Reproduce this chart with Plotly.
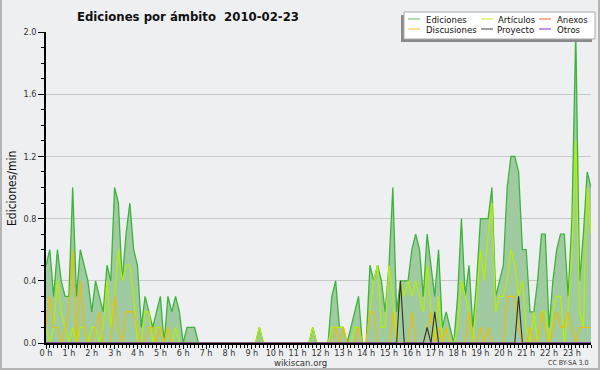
import plotly.graph_objects as go

# ---- data (edits per minute, 10-minute slots, 2010-02-23) ----
slots = list(range(144))  # 10-minute slot index
hour_labels = [f"{h} h" for h in range(24)]
y_ticks = [0.0, 0.4, 0.8, 1.2, 1.6, 2.0]

ediciones = [
    0.5, 0.6, 0.3, 0.6, 0.4, 0.3, 0.3, 1.0, 0.3, 0.6,
    0.5, 0.4, 0.2, 0.4, 0.3, 0.2, 0.5, 0.4, 1.0, 0.9,
    0.4, 0.7, 0.9, 0.6, 0.5, 0.1, 0.3, 0.2, 0.1, 0.2,
    0.3, 0.0, 0.3, 0.2, 0.3, 0.2, 0.0, 0.1, 0.1, 0.1,
    0.0, 0.0, 0.0, 0.0, 0.0, 0.0, 0.0, 0.0, 0.0, 0.0,
    0.0, 0.0, 0.0, 0.0, 0.0, 0.0, 0.1, 0.0, 0.0, 0.0,
    0.0, 0.0, 0.0, 0.0, 0.0, 0.0, 0.0, 0.0, 0.0, 0.0,
    0.1, 0.0, 0.0, 0.0, 0.0, 0.3, 0.4, 0.1, 0.1, 0.0,
    0.1, 0.2, 0.3, 0.0, 0.0, 0.5, 0.4, 0.5, 0.4, 0.2,
    0.5, 1.0, 0.2, 0.4, 0.4, 0.4, 0.6, 0.7, 0.6, 0.3,
    0.7, 0.5, 0.3, 0.6, 0.1, 0.2, 0.1, 0.0, 0.3, 0.8,
    0.3, 0.5, 0.1, 0.4, 0.8, 0.8, 0.8, 1.0, 0.3, 0.4,
    0.5, 1.0, 1.2, 1.2, 1.1, 0.6, 0.6, 0.2, 0.2, 0.4,
    0.7, 0.7, 0.1, 0.4, 0.6, 0.7, 0.7, 0.3, 0.8, 2.0,
    0.4, 0.7, 1.1, 1.0,
]
articulos = [
    0.1, 0.0, 0.1, 0.4, 0.2, 0.1, 0.0, 0.1, 0.0, 0.1,
    0.1, 0.0, 0.1, 0.1, 0.0, 0.1, 0.4, 0.1, 0.3, 0.6,
    0.4, 0.5, 0.5, 0.3, 0.0, 0.0, 0.2, 0.2, 0.0, 0.1,
    0.1, 0.0, 0.1, 0.0, 0.1, 0.0, 0.0, 0.0, 0.0, 0.0,
    0.0, 0.0, 0.0, 0.0, 0.0, 0.0, 0.0, 0.0, 0.0, 0.0,
    0.0, 0.0, 0.0, 0.0, 0.0, 0.0, 0.1, 0.0, 0.0, 0.0,
    0.0, 0.0, 0.0, 0.0, 0.0, 0.0, 0.0, 0.0, 0.0, 0.0,
    0.1, 0.0, 0.0, 0.0, 0.0, 0.1, 0.1, 0.1, 0.1, 0.0,
    0.0, 0.1, 0.1, 0.0, 0.0, 0.2, 0.4, 0.5, 0.1, 0.1,
    0.5, 0.3, 0.0, 0.4, 0.3, 0.4, 0.3, 0.4, 0.3, 0.2,
    0.5, 0.2, 0.0, 0.3, 0.0, 0.1, 0.0, 0.0, 0.1, 0.4,
    0.3, 0.2, 0.0, 0.3, 0.6, 0.4, 0.7, 0.9, 0.2, 0.3,
    0.3, 0.4, 0.6, 0.5, 0.3, 0.4, 0.1, 0.0, 0.2, 0.0,
    0.2, 0.2, 0.0, 0.2, 0.3, 0.3, 0.0, 0.2, 0.6, 1.3,
    0.2, 0.1, 1.0, 0.7,
]
discusiones = [
    0.1, 0.3, 0.1, 0.1, 0.0, 0.1, 0.2, 0.6, 0.0, 0.4,
    0.1, 0.0, 0.0, 0.1, 0.2, 0.0, 0.0, 0.0, 0.3, 0.1,
    0.0, 0.2, 0.2, 0.2, 0.1, 0.0, 0.0, 0.1, 0.1, 0.0,
    0.1, 0.0, 0.1, 0.0, 0.0, 0.0, 0.0, 0.0, 0.0, 0.0,
    0.0, 0.0, 0.0, 0.0, 0.0, 0.0, 0.0, 0.0, 0.0, 0.0,
    0.0, 0.0, 0.0, 0.0, 0.0, 0.0, 0.0, 0.0, 0.0, 0.0,
    0.0, 0.0, 0.0, 0.0, 0.0, 0.0, 0.0, 0.0, 0.0, 0.0,
    0.0, 0.0, 0.0, 0.0, 0.0, 0.0, 0.1, 0.0, 0.1, 0.0,
    0.0, 0.0, 0.1, 0.0, 0.0, 0.2, 0.2, 0.0, 0.0, 0.0,
    0.0, 0.2, 0.0, 0.0, 0.0, 0.0, 0.2, 0.0, 0.0, 0.0,
    0.1, 0.2, 0.0, 0.1, 0.0, 0.1, 0.0, 0.0, 0.0, 0.0,
    0.0, 0.2, 0.0, 0.0, 0.1, 0.0, 0.1, 0.0, 0.0, 0.0,
    0.0, 0.3, 0.3, 0.3, 0.1, 0.0, 0.0, 0.1, 0.0, 0.0,
    0.2, 0.1, 0.0, 0.1, 0.2, 0.1, 0.1, 0.2, 0.1, 0.0,
    0.1, 0.1, 0.1, 0.1,
]
proyecto = [0.0] * 144
for idx, val in [(93, 0.4), (100, 0.1), (102, 0.2), (124, 0.3)]:
    proyecto[idx] = val
anexos = [0.0] * 144
otros = [0.0] * 144

hours = [s / 6 for s in slots]

# ---- layout helpers (pixel -> paper) ----
W, H = 600, 370
ML, MR, MT, MB = 46, 9, 32, 27
PW, PH = W - ML - MR, H - MT - MB


def px(x):
    return (x - ML) / PW


def py(y):
    return (H - MB - y) / PH


FONT = "DejaVu Sans Condensed, DejaVu Sans, sans-serif"
BG = "#eeeff1"

fig = go.Figure()
fig.add_trace(go.Scatter(x=hours, y=ediciones, name="Ediciones", mode="lines",
                         line=dict(color="#3cb43c", width=1.3),
                         fill="tozeroy", fillcolor="#a0cba0"))
fig.add_trace(go.Scatter(x=hours, y=articulos, name="Artículos", mode="lines",
                         line=dict(color="#b4f000", width=1.2)))
fig.add_trace(go.Scatter(x=hours, y=anexos, name="Anexos", mode="lines",
                         line=dict(color="#f07840", width=1.1)))
fig.add_trace(go.Scatter(x=hours, y=discusiones, name="Discusiones", mode="lines",
                         line=dict(color="#f0bc00", width=1.1)))
fig.add_trace(go.Scatter(x=hours, y=proyecto, name="Proyecto", mode="lines",
                         line=dict(color="#303030", width=1.1)))
fig.add_trace(go.Scatter(x=hours, y=otros, name="Otros", mode="lines",
                         line=dict(color="#9040e0", width=1.1)))

shapes = []
annotations = []

# outer frame (left, right, bottom)
for (x0, y0, x1, y1) in [(1, 0, 1, 369), (599, 0, 599, 369), (0, 369, 600, 369)]:
    shapes.append(dict(type="line", xref="paper", yref="paper",
                       x0=px(x0), y0=py(y0), x1=px(x1), y1=py(y1),
                       line=dict(color="#b4b4b4", width=2), layer="above"))

# legend box with shadow
lx0, ly0, lx1, ly1 = 404, 12, 595, 39
shapes.append(dict(type="rect", xref="paper", yref="paper",
                   x0=px(lx0 - 3), y0=py(ly1 + 3), x1=px(lx1 - 3), y1=py(ly0 + 3),
                   fillcolor="#8a8a8a", line=dict(width=0), layer="above"))
shapes.append(dict(type="rect", xref="paper", yref="paper",
                   x0=px(lx0), y0=py(ly1), x1=px(lx1), y1=py(ly0),
                   fillcolor="#ffffff", line=dict(color="#aaaaaa", width=1), layer="above"))

# (label, colour, symbol x, text x, symbol y, text y)
legend_items = [
    ("Ediciones", "#80c880", 408, 424, 19, 19.5),
    ("Artículos", "#c8f050", 481, 496, 19, 19.5),
    ("Anexos", "#f08050", 539, 555, 19, 19.5),
    ("Discusiones", "#f0cc50", 408, 424, 29, 29.5),
    ("Proyecto", "#606060", 481, 495, 29, 29),
    ("Otros", "#9050e0", 539, 555, 29, 29.5),
]
for name, col, lxs, tx, ly, ty in legend_items:
    shapes.append(dict(type="line", xref="paper", yref="paper",
                       x0=px(lxs), x1=px(lxs + 12), y0=py(ly), y1=py(ly),
                       line=dict(color=col, width=1.2), layer="above"))
    annotations.append(dict(text=name, xref="paper", yref="paper",
                            x=px(tx), y=py(ty), xanchor="left", yanchor="middle",
                            showarrow=False, font=dict(family=FONT, size=9.5, color="#111111")))

# title
annotations.append(dict(text="<b>Ediciones por ámbito\u00a0\u00a02010-02-23</b>", xref="paper", yref="paper",
                        x=px(188), y=py(16), xanchor="center", yanchor="middle",
                        showarrow=False, font=dict(family=FONT, size=13, color="#111111")))
# y-axis title
annotations.append(dict(text="Ediciones/min", xref="paper", yref="paper",
                        x=px(12), y=py(189), xanchor="center", yanchor="middle", textangle=-90,
                        showarrow=False, font=dict(family=FONT, size=12, color="#111111")))
# footer
annotations.append(dict(text="wikiscan.org", xref="paper", yref="paper",
                        x=px(300), y=py(362), xanchor="center", yanchor="middle",
                        showarrow=False, font=dict(family=FONT, size=9.5, color="#333333")))
annotations.append(dict(text="CC BY-SA 3.0", xref="paper", yref="paper",
                        x=px(590), y=py(363), xanchor="right", yanchor="middle",
                        showarrow=False, font=dict(family=FONT, size=7, color="#333333")))

fig.update_layout(
    width=W, height=H,
    margin=dict(l=ML, r=MR, t=MT, b=MB, pad=0),
    paper_bgcolor=BG, plot_bgcolor=BG,
    showlegend=False,
    shapes=shapes, annotations=annotations,
    xaxis=dict(range=[0, 143 / 6], tickvals=list(range(24)), ticktext=hour_labels,
               ticks="outside", ticklen=4, tickcolor="#000000", tickwidth=1,
               ticklabelstandoff=-4,
               minor=dict(dtick=1 / 6, tick0=0, ticks="outside", ticklen=3,
                          tickcolor="#000000", tickwidth=1, showgrid=False),
               showgrid=False, zeroline=False,
               showline=True, linecolor="#000000", linewidth=2,
               tickfont=dict(family=FONT, size=9, color="#333333")),
    yaxis=dict(range=[0, 2.0], tickvals=y_ticks, ticktext=[f"{v:.1f}" for v in y_ticks],
               ticks="outside", ticklen=6, tickcolor="#000000", tickwidth=1,
               minor=dict(dtick=0.1, tick0=0, ticks="outside", ticklen=3,
                          tickcolor="#000000", tickwidth=1, showgrid=False),
               showgrid=True, gridcolor="#c8c8c8", gridwidth=1, zeroline=False,
               showline=True, linecolor="#000000", linewidth=1.5,
               tickfont=dict(family=FONT, size=9, color="#333333")),
)

fig.write_html("out.html", config={"displayModeBar": False},
               post_script="document.body.style.margin='0px';document.body.style.overflow='hidden';")
